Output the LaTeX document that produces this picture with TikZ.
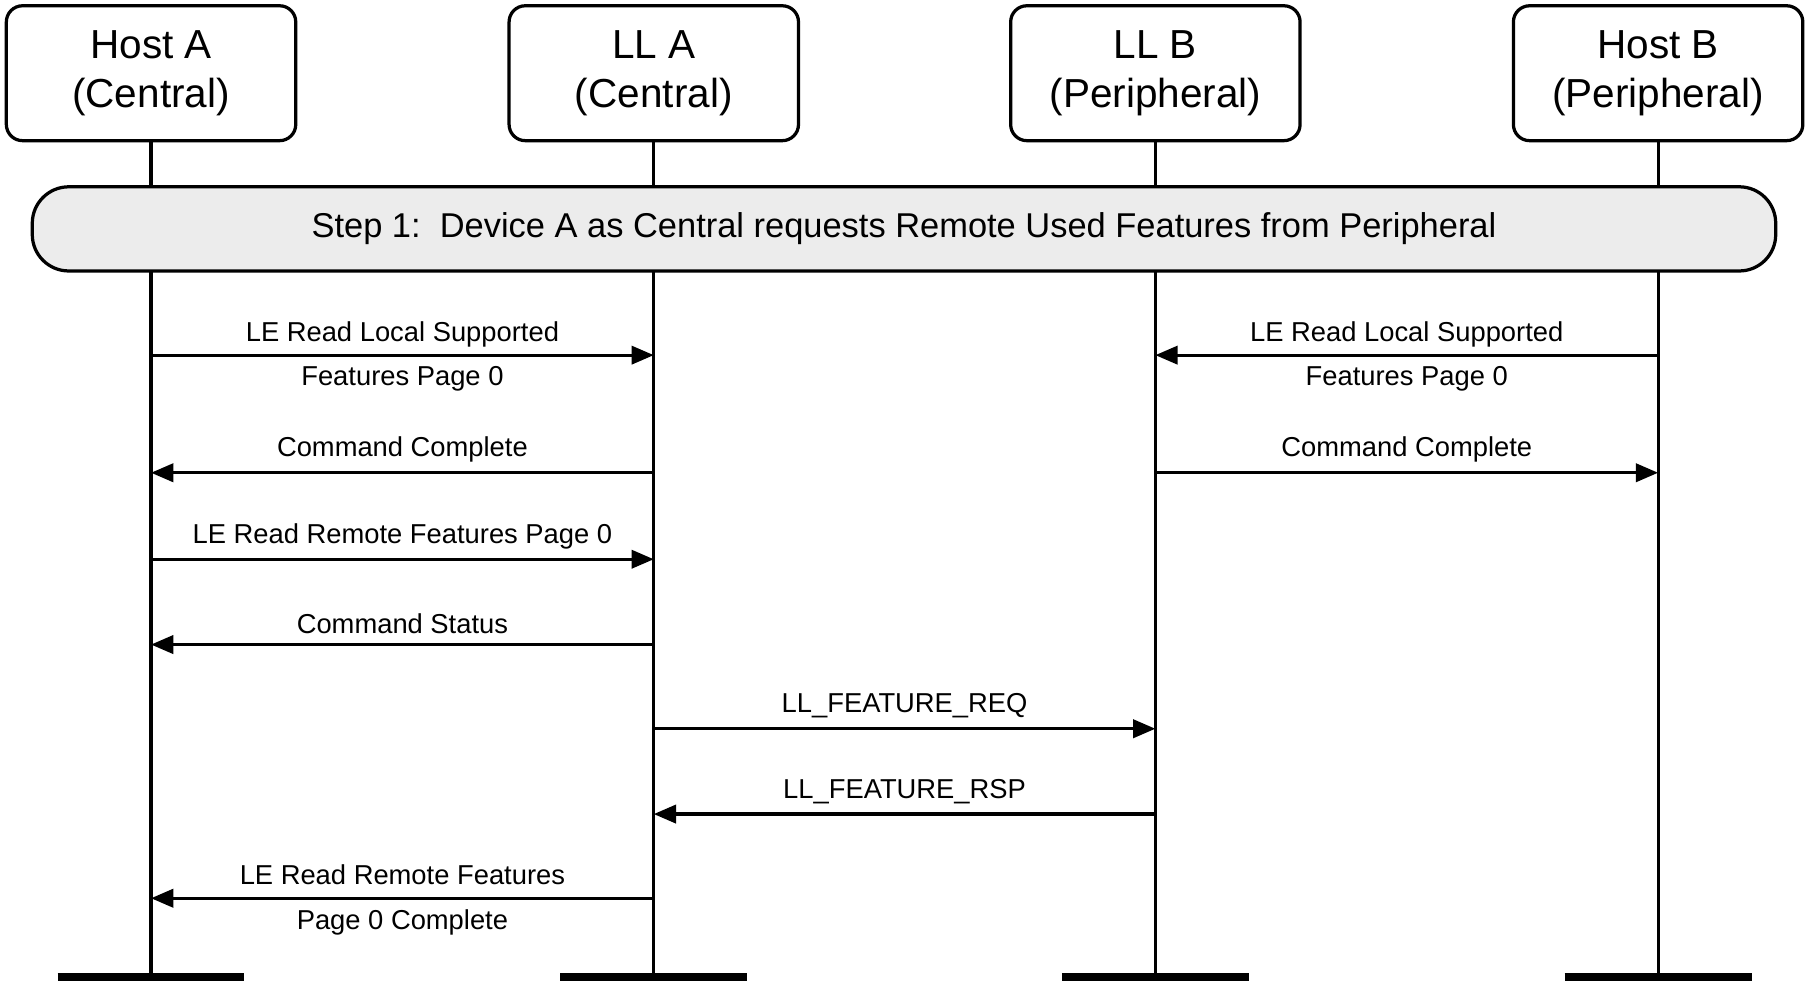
\documentclass[tikz,border=0pt]{standalone}
\usepackage{fontspec}
\setmainfont{Liberation Sans}
\usetikzlibrary{arrows.meta}
\begin{document}
\begin{tikzpicture}[x=0.02cm, y=-0.02cm,
  party/.style={draw, line width=1.6pt, rounded corners=8pt, minimum width=251*0.02cm,
    minimum height=117*0.02cm, align=center, font=\fontsize{20}{24}\selectfont},
  life/.style={line width=1.6pt},
  msg/.style={line width=1.6pt, -{Triangle[length=11pt,width=9pt]}},
  lbl/.style={font=\fontsize{13.5}{16}\selectfont, align=center}]
\useasboundingbox (0,0) rectangle (1568,855);
% parties
\node[party] (hA) at (131,63.5) {Host A\\(Central)};
\node[party] (lA) at (567,63.5) {LL A\\(Central)};
\node[party] (lB) at (1002,63.5) {LL B\\(Peripheral)};
\node[party] (hB) at (1438,63.5) {Host B\\(Peripheral)};
% lifeline ends
\foreach \n/\x in {hA/131, lA/567, lB/1002, hB/1438} {
  \coordinate (\n e) at (\x,847);
  \draw[life] (\n.south) -- (\n e);
  \draw[line width=4pt] ([xshift=-81*0.02cm]\n e) -- ([xshift=81*0.02cm]\n e);
}
% step
\node[draw, line width=1.6pt, fill=gray!15, rounded corners=18pt, minimum width=1512*0.02cm,
  minimum height=73*0.02cm, font=\fontsize{17}{20}\selectfont] (step) at (784,198.5)
  {Step 1:\ \ Device A as Central requests Remote Used Features from Peripheral};
% message anchors
\foreach \n/\x in {hA/131, lA/567, lB/1002, hB/1438}
  \foreach \i/\y in {1/308, 2/410, 3/485, 4/559, 5/632, 6/706, 7/779}
    \coordinate (\n\i) at (\x,\y);
% messages
\draw[msg] (hA1) -- node[lbl] {\strut LE Read Local Supported\\[6pt]Features Page 0} (lA1);
\draw[msg] (hB1) -- node[lbl] {\strut LE Read Local Supported\\[6pt]Features Page 0} (lB1);
\draw[msg] (lA2) -- node[lbl, above=1pt] {Command Complete} (hA2);
\draw[msg] (lB2) -- node[lbl, above=1pt] {Command Complete} (hB2);
\draw[msg] (hA3) -- node[lbl, above=1pt] {LE Read Remote Features Page 0} (lA3);
\draw[msg] (lA4) -- node[lbl, above=1pt] {Command Status} (hA4);
\draw[msg] (lA5) -- node[lbl, above=1pt] {LL\_FEATURE\_REQ} (lB5);
\draw[msg] (lB6) -- node[lbl, above=1pt] {LL\_FEATURE\_RSP} (lA6);
\draw[msg] (lA7) -- node[lbl] {\strut LE Read Remote Features\\[6pt]Page 0 Complete} (hA7);
\end{tikzpicture}
\end{document}
